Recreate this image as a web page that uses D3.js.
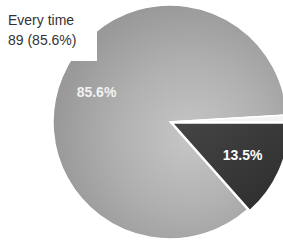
<!DOCTYPE html>
<html>
<head>
<meta charset="utf-8">
<script src="https://cdn.jsdelivr.net/npm/d3@7"></script>
<style>
  html, body { margin: 0; padding: 0; background: #fff; }
  svg { display: block; }
</style>
</head>
<body>
<svg id="chart" width="283" height="242"></svg>
<script>
// Data (order is clockwise starting at 3 o'clock)
const categories = ["Sometimes", "Every time", "Never"];
const counts = [14, 89, 1];
const percentLabels = ["13.5%", "85.6%", ""];
const tooltipLines = ["Every time", "89 (85.6%)"];

const W = 283, H = 242;
const cx = 170, cy = 122, R = 117;
const svg = d3.select("#chart");

const defs = svg.append("defs");
const g1 = defs.append("radialGradient").attr("id", "gBig")
  .attr("gradientUnits", "userSpaceOnUse")
  .attr("cx", 20).attr("cy", 15).attr("r", 135);
g1.append("stop").attr("offset", "0").attr("stop-color", "#c6c6c6");
g1.append("stop").attr("offset", "0.55").attr("stop-color", "#b0b0b0");
g1.append("stop").attr("offset", "1").attr("stop-color", "#999999");
const g2 = defs.append("linearGradient").attr("id", "gDark")
  .attr("x1", "0").attr("y1", "0").attr("x2", "1").attr("y2", "1");
g2.append("stop").attr("offset", "0").attr("stop-color", "#454545");
g2.append("stop").attr("offset", "1").attr("stop-color", "#2c2c2c");

const fills = ["url(#gDark)", "url(#gBig)", "#f4f4f4"];

const pie = d3.pie().sort(null).value(d => d)
  .startAngle(Math.PI / 2).endAngle(Math.PI / 2 + 2 * Math.PI);
const arcs = pie(counts);
const arc = d3.arc().innerRadius(0).outerRadius(R);
const labelArc = d3.arc().innerRadius(R * 0.68).outerRadius(R * 0.68);

const root = svg.append("g").attr("transform", `translate(${cx},${cy})`);

root.selectAll("path.slice").data(arcs).join("path")
  .attr("class", "slice")
  .attr("d", arc)
  .attr("fill", (d, i) => fills[i])
  .attr("stroke", "#fff")
  .attr("stroke-width", 1.5)
  .attr("transform", (d, i) => {
    if (i !== 0) return null;
    const m = (d.startAngle + d.endAngle) / 2;
    return `translate(${Math.sin(m) * 2.5},${-Math.cos(m) * 2.5})`;
  });

root.selectAll("text.pct").data(arcs).join("text")
  .attr("class", "pct")
  .attr("transform", d => `translate(${labelArc.centroid(d)})`)
  .attr("text-anchor", "middle")
  .attr("dy", "0.36em")
  .attr("font-family", "Liberation Sans, Arial, sans-serif")
  .attr("font-weight", "bold")
  .attr("font-size", 14)
  .attr("fill", (d, i) => i === 1 ? "#f2f2f2" : "#ffffff")
  .text((d, i) => percentLabels[i]);

// Tooltip-like label box
svg.append("rect").attr("x", 0).attr("y", 0).attr("width", 97).attr("height", 61)
  .attr("fill", "#fff");
svg.selectAll("text.tip").data(tooltipLines).join("text")
  .attr("class", "tip")
  .attr("x", 8)
  .attr("y", (d, i) => 25 + i * 20)
  .attr("font-family", "Liberation Sans, Arial, sans-serif")
  .attr("font-size", 14)
  .attr("fill", "#333")
  .text(d => d);
</script>
</body>
</html>
